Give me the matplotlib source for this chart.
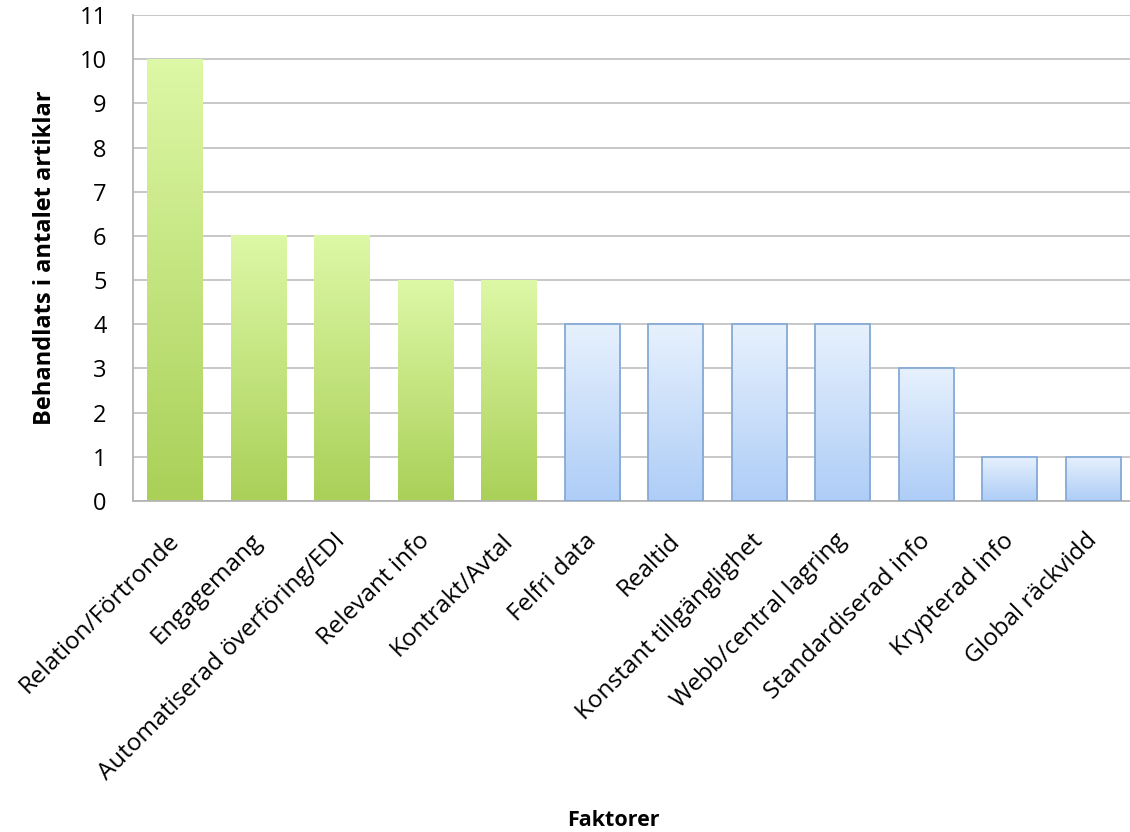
import numpy as np
import matplotlib.pyplot as plt
import matplotlib.transforms as mtransforms
from matplotlib.colors import LinearSegmentedColormap

# Data
faktorer = ['Relation/Förtronde', 'Engagemang', 'Automatiserad överföring/EDI',
            'Relevant info', 'Kontrakt/Avtal', 'Felfri data', 'Realtid',
            'Konstant tillgänglighet', 'Webb/central lagring',
            'Standardiserad info', 'Krypterad info', 'Global räckvidd']
antal = [10, 6, 6, 5, 5, 4, 4, 4, 4, 3, 1, 1]
grupp = ['green'] * 5 + ['blue'] * 7

plt.rcParams['font.family'] = ['Open Sans', 'DejaVu Sans']

green_cmap = LinearSegmentedColormap.from_list('g', ['#aad058', '#ddf8a6'])
blue_cmap = LinearSegmentedColormap.from_list('b', ['#aecdf7', '#e7f1fd'])

fig = plt.figure(figsize=(11.3, 8.32), dpi=100)
ax = fig.add_axes([133 / 1130, 1 - 501 / 832, 1 - 133 / 1130, 486 / 832])

bredd = 0.66
x = np.arange(len(faktorer))
grad = np.linspace(0, 1, 256).reshape(-1, 1)

# gradientfyllda staplar
for xi, v, g in zip(x, antal, grupp):
    cmap = green_cmap if g == 'green' else blue_cmap
    ax.imshow(grad, cmap=cmap, origin='lower', aspect='auto',
              extent=[xi - bredd / 2, xi + bredd / 2, 0, v], zorder=2,
              interpolation='bilinear')
    if g == 'blue':
        ax.bar(xi, v, width=bredd, facecolor='none', edgecolor='#86aad6',
               linewidth=1.3, zorder=3)

ax.set_xlim(-0.5, 11.44)
ax.set_ylim(0, 11)
ax.set_yticks(range(0, 12))
ax.tick_params(axis='y', length=0, labelsize=17, pad=19)
ax.tick_params(axis='x', length=0, pad=20)
ax.set_xticks(x)
ax.set_xticklabels(faktorer, rotation=45, ha='right', rotation_mode='anchor',
                   fontsize=17.5)
offset = mtransforms.ScaledTranslation(-0.08, 0, fig.dpi_scale_trans)
for lbl in ax.get_xticklabels():
    lbl.set_transform(lbl.get_transform() + offset)
ax.grid(axis='y', color='#c4c4c4', linewidth=1.3, zorder=0)
ax.set_axisbelow(True)
for s in ['top', 'right']:
    ax.spines[s].set_visible(False)
ax.spines['left'].set_color('#b4b4b4')
ax.spines['bottom'].set_color('#b4b4b4')
ax.spines['left'].set_linewidth(1.3)
ax.spines['bottom'].set_linewidth(1.3)

fig.text(613 / 1130, 1 - 820 / 832, 'Faktorer', ha='center', va='center',
         fontsize=15.5, fontweight='bold')
fig.text(45 / 1130, 1 - 258 / 832, 'Behandlats i antalet artiklar', ha='center',
         va='center', rotation=90, fontsize=17, fontweight='bold')

fig.savefig('out.png', dpi=100)
